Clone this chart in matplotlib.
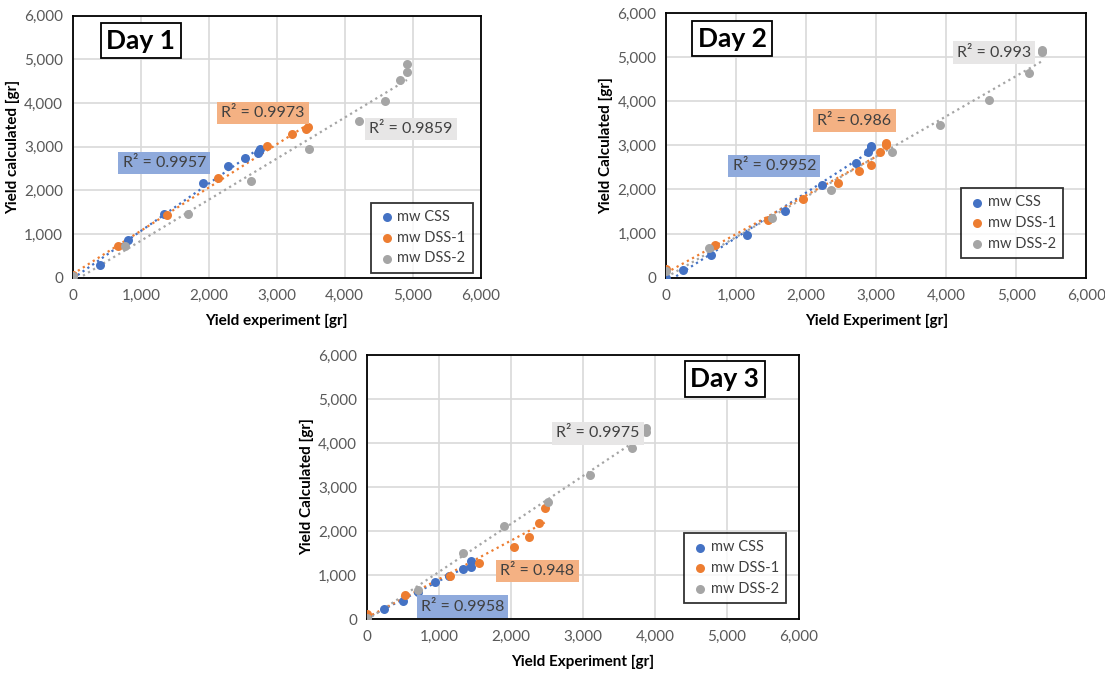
import numpy as np
import matplotlib
matplotlib.use('Agg')
import matplotlib.pyplot as plt
from matplotlib.ticker import FuncFormatter

plt.rcParams['font.family'] = ['Lato', 'DejaVu Sans']

# 数据
d1_css_x = [0, 400, 810, 1340, 1910, 2285, 2525, 2720, 2740, 2755]
d1_css_y = [30, 290, 860, 1470, 2170, 2560, 2740, 2860, 2900, 2955]
d1_dss1_x = [0, 670, 1380, 2130, 2860, 3230, 3430, 3465]
d1_dss1_y = [60, 725, 1435, 2290, 3010, 3300, 3410, 3450]
d1_dss2_x = [0, 770, 1700, 2620, 3480, 4205, 4590, 4820, 4915, 4915]
d1_dss2_y = [40, 725, 1465, 2220, 2940, 3600, 4040, 4535, 4710, 4900]

d2_css_x = [0, 240, 635, 1155, 1695, 2230, 2710, 2885, 2920, 2930]
d2_css_y = [0, 175, 515, 960, 1510, 2100, 2590, 2855, 2960, 2980]
d2_dss1_x = [0, 695, 1450, 1955, 2455, 2750, 2920, 3050, 3140, 3140]
d2_dss1_y = [205, 740, 1315, 1775, 2150, 2420, 2550, 2845, 3005, 3055]
d2_dss2_x = [0, 615, 1505, 2350, 3220, 3915, 4605, 5180, 5370, 5370]
d2_dss2_y = [150, 665, 1345, 1990, 2855, 3465, 4030, 4650, 5115, 5155]

d3_css_x = [0, 235, 495, 710, 940, 1140, 1340, 1450, 1450]
d3_css_y = [40, 220, 410, 620, 840, 980, 1130, 1180, 1315]
d3_dss1_x = [0, 525, 1160, 1555, 2050, 2255, 2385, 2470]
d3_dss1_y = [120, 540, 970, 1270, 1635, 1860, 2185, 2520]
d3_dss2_x = [0, 705, 1330, 1910, 2510, 3100, 3680, 3880, 3880]
d3_dss2_y = [20, 665, 1490, 2125, 2655, 3280, 3895, 4245, 4330]

r2_1 = ['0.9957', '0.9973', '0.9859']
r2_2 = ['0.9952', '0.986', '0.993']
r2_3 = ['0.9958', '0.948', '0.9975']

names = ['mw CSS', 'mw DSS-1', 'mw DSS-2']
colors = ['#4472C4', '#ED7D31', '#A5A5A5']
boxcolors = ['#8FAADC', '#F4B183', '#E7E6E6']

fig = plt.figure(figsize=(11.05, 6.84), dpi=100)

def panel(rect, xs, ys, r2, r2pos, title, titlepos, xlabel, ylabel, legpos):
    ax = fig.add_axes(rect)
    for i in range(3):
        ax.scatter(xs[i], ys[i], s=42, color=colors[i], label=names[i], zorder=3, linewidths=0)
        k, b = np.polyfit(xs[i], ys[i], 1)
        xx = np.array([min(xs[i]), max(xs[i])])
        ax.plot(xx, k * xx + b, ':', color=colors[i], lw=1.6, zorder=2)
        ax.text(r2pos[i][0], r2pos[i][1], 'R² = ' + r2[i], ha='center', va='center', fontsize=11.5,
                color='#404040', bbox=dict(facecolor=boxcolors[i], edgecolor='none', pad=3), zorder=4)
    ax.text(titlepos[0], titlepos[1], title, ha='center', va='center', fontsize=19, fontweight='bold',
            bbox=dict(facecolor='white', edgecolor='black', lw=1.3, pad=4), zorder=5)
    ax.set_xlim(0, 6000)
    ax.set_ylim(0, 6000)
    ax.set_xticks(range(0, 6001, 1000))
    ax.set_yticks(range(0, 6001, 1000))
    fmt = FuncFormatter(lambda v, p: '{:,.0f}'.format(v))
    ax.xaxis.set_major_formatter(fmt)
    ax.yaxis.set_major_formatter(fmt)
    ax.tick_params(length=0, labelsize=11, labelcolor='#595959', pad=8)
    ax.tick_params(axis='y', pad=7)
    ax.grid(color='#D9D9D9', lw=1.2)
    ax.set_axisbelow(True)
    for s in ax.spines.values():
        s.set_linewidth(1.3)
        s.set_color('black')
    ax.set_xlabel(xlabel, fontsize=11, fontweight='bold', labelpad=8)
    ax.set_ylabel(ylabel, fontsize=11, fontweight='bold', labelpad=3)
    leg = ax.legend(loc='lower right', bbox_to_anchor=legpos, fontsize=10.5, frameon=True, fancybox=False,
                    borderaxespad=0, handletextpad=0.1, borderpad=0.5, labelspacing=0.45,
                    handlelength=1.2, labelcolor='#404040')
    leg.get_frame().set_edgecolor('black')
    leg.get_frame().set_linewidth(1.3)
    return ax

panel([0.066, 0.594, 0.369, 0.383],
      [d1_css_x, d1_dss1_x, d1_dss2_x], [d1_css_y, d1_dss1_y, d1_dss2_y], r2_1,
      [(1345, 2620), (2795, 3765), (4970, 3410)], 'Day 1', (1000, 5423),
      'Yield experiment [gr]', 'Yield calculated [gr]', (0.98, 0.019))

panel([0.603, 0.594, 0.380, 0.387],
      [d2_css_x, d2_dss1_x, d2_dss2_x], [d2_css_y, d2_dss1_y, d2_dss2_y], r2_2,
      [(1543, 2534), (2686, 3563), (4679, 5102)], 'Day 2', (943, 5418),
      'Yield Experiment [gr]', 'Yield Calculated [gr]', (0.945, 0.075))

panel([0.332, 0.095, 0.391, 0.386],
      [d3_css_x, d3_dss1_x, d3_dss2_x], [d3_css_y, d3_dss1_y, d3_dss2_y], r2_3,
      [(1326, 284), (2368, 1091), (3208, 4216)], 'Day 3', (4972, 5455),
      'Yield Experiment [gr]', 'Yield Calculated [gr]', (0.97, 0.061))

plt.savefig('out.png', dpi=100)
